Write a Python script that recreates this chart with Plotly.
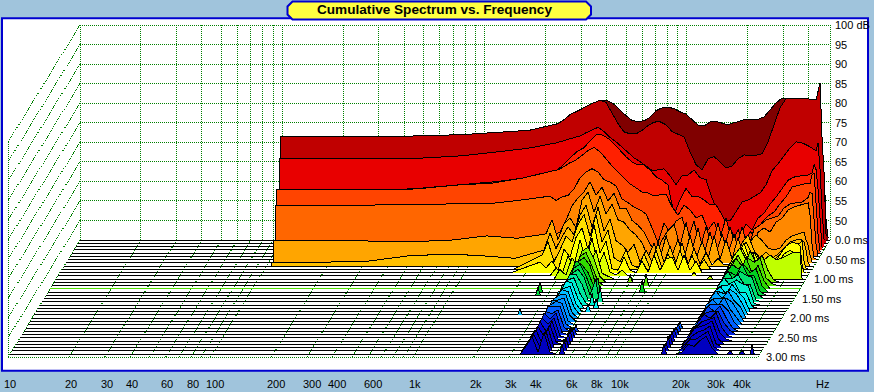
import math
import plotly.graph_objects as go

TITLE = "Cumulative Spectrum vs. Frequency"
DB_TICKS = [100, 95, 90, 85, 80, 75, 70, 65, 60, 55, 50]
MS_TICKS = [0.0, 0.5, 1.0, 1.5, 2.0, 2.5, 3.0]
MS_LABELS = ["0.0 ms", "0.50 ms", "1.00 ms", "1.50 ms", "2.00 ms", "2.50 ms", "3.00 ms"]
HZ_TICKS = [10, 20, 30, 40, 60, 80, 100, 200, 300, 400, 600, 1000, 2000, 3000, 4000, 6000, 8000, 10000, 20000, 30000, 40000]
HZ_LABELS = ["10", "20", "30", "40", "60", "80", "100", "200", "300", "400", "600", "1k", "2k", "3k", "4k", "6k", "8k", "10k", "20k", "30k", "40k"]
HZ_GRID = [10, 20, 30, 40, 50, 60, 70, 80, 90, 100, 200, 300, 400, 500, 600, 700, 800, 900, 1000,
           2000, 3000, 4000, 5000, 6000, 7000, 8000, 9000, 10000, 20000, 30000, 40000, 51000]

HZ_LOW = [100, 140, 200, 300, 500, 800, 1200, 1700]
HZ_HIGH = [2359, 2526, 2704, 2896, 3100, 3319, 3554, 3806, 4075, 4363, 4671, 5002, 5355, 5734, 6139, 6573,
           7038, 7536, 8068, 8639, 9250, 9904, 10604, 11354, 12157, 13016, 13937, 14922, 15977, 17107, 18316,
           19611, 20998, 22483, 24072, 25774, 27596, 29547, 31637, 33874, 36268, 38833, 41578, 44518,
           45541, 46589, 47660, 48757, 49879]
FIRST_HZ = [100, 100, 101, 102, 103, 104, 105, 106, 106]

SLICE_COLORS = ["#800000", "#c00000", "#e80000", "#ff2000", "#ff4400", "#ff6600", "#ff8800", "#ffa500", "#ffc000",
                "#ffe000", "#ffff00", "#e0ff00", "#c0ff00", "#80f000", "#50e000", "#30d800", "#00d020", "#00d840",
                "#00e070", "#00e8a0", "#00f0d0", "#00f0f0", "#00d8ff", "#00c0ff", "#00a0ff", "#0090ff", "#0080ff",
                "#0060ff", "#0040f0", "#0020e0", "#0010d8", "#0000d0", "#0000d0", "#0000c8", "#0000c8", "#0000c0"]

LOW_DB = [
    [71.2, 71.2, 71.2, 71.2, 71.2, 71.7, 72.2, 72.7],
    [72.2, 72.2, 72.2, 72.2, 72.5, 72.8, 73.4, 73.9],
    [67.4, 67.4, 67.4, 67.4, 67.6, 68.2, 69.2, 70.1],
    [60.1, 60.1, 60.1, 60.1, 60.7, 61.6, 62.4, 63.4],
    [61.2, 61.2, 61.2, 61.2, 61.4, 62.4, 62.9, 64.2],
    [58.1, 58.1, 58.1, 58.1, 58.3, 58.4, 58.5, 59.4],
    [49.5, 49.5, 49.5, 49.5, 49.5, 49.7, 50, 50.5],
    [50.6, 50.6, 50.6, 50.6, 50.4, 50.8, 51.9, 51.3],
    [46, 46, 46, 46.1, 47.6, 48.1, 47.6, 47],
]

SLICE_00 = [74.2, 75.3, 76.5, 77.6, 78.6, 79.6, 80.1, 80.6, 80.6, 79.7, 78.3, 76.8, 75.6, 75.3, 75.5, 76.4, 78.1, 78.8, 79, 78.6, 77.8, 77.2, 75.8, 74.4, 74.2, 75.2, 75.3, 74.9, 74.5, 75, 75.5, 75.9, 75.9, 75.9, 76.5, 78.2, 80.1, 81.3, 81.2, 80.9, 80.6, 80.6, 80.6, 80.9, 80.9, 70.9, 62.2, 50, 45.5]
SLICE_01 = [75.6, 76.6, 77.9, 78.6, 79.4, 80.3, 81, 81.6, 81, 78.1, 75.6, 73.5, 73, 73, 73.9, 75.1, 76, 76.1, 75.3, 73.6, 73, 72.2, 68.4, 65.1, 63.8, 66.6, 67.2, 65.8, 64.3, 64.8, 66.6, 67.6, 67.4, 67.5, 67.9, 71, 75.3, 79.7, 82, 82, 81.9, 82, 81.9, 81.8, 84.3, 86, 71.7, 63, 46.9]
SLICE_02 = [71.5, 72, 72.4, 72.9, 73.3, 74.1, 74.9, 75.5, 74.4, 72.9, 71.8, 70.5, 69, 67.7, 66.7, 65.6, 64.5, 64.6, 64.9, 63.1, 60.8, 63.1, 63.3, 64.6, 62.6, 62.1, 57.4, 53.8, 52, 51.5, 54.1, 56.4, 56.9, 57.7, 58.7, 60.8, 64.4, 66.2, 68.2, 70.3, 71.8, 71.5, 70.8, 69.7, 69.5, 71.5, 64.6, 54.4, 46.7]
SLICE_03 = [64.9, 66, 67.6, 69, 70.3, 71.1, 72.9, 74.4, 74.4, 73.5, 72.1, 70.3, 68.8, 67.5, 66.7, 66.7, 65.4, 63.7, 62.8, 61.6, 54, 57.8, 60.7, 58.6, 58.6, 57.8, 56.5, 56.5, 53.9, 50.6, 48.8, 48.5, 51.6, 50.1, 53.1, 54.4, 56.7, 58.5, 60.5, 62.8, 63.6, 63.9, 63.9, 64.7, 66.8, 65.5, 60.3, 51.3, 45.4]
SLICE_04 = [66, 66.3, 67.1, 68.1, 68.8, 69.9, 71.2, 72, 70.9, 69.1, 67.3, 65.8, 64.2, 62.7, 61.7, 60.6, 60.4, 59.6, 59.9, 60.1, 56.8, 54.7, 57.3, 56, 54, 54.7, 50.9, 53, 49, 54, 47.5, 51, 47.5, 50.5, 49, 52.9, 54.5, 55.5, 57.6, 59.4, 61.9, 62.4, 62.7, 62.9, 65, 65.5, 57.3, 49.6, 45.3]
SLICE_05 = [60.4, 59.3, 60.2, 60.6, 62.2, 65.1, 66.6, 67.4, 66.6, 64.6, 64, 63, 59.7, 58.7, 57.6, 56.9, 55.8, 52.3, 48.5, 53.5, 51, 54, 55, 49.5, 54, 47, 52.5, 47.5, 53.5, 47, 52.5, 47, 52.5, 47, 52, 53, 54.3, 54.8, 55.3, 57.4, 58.4, 58.7, 58.9, 60, 61.5, 61, 54.3, 47.9, 45.1]
SLICE_06 = [51.5, 51.5, 52, 55.1, 58.7, 60.8, 62.3, 64.9, 61.5, 63.5, 60, 62, 58, 58.2, 55, 53.8, 52, 49, 46.5, 50, 52.5, 54, 48.5, 54.5, 47.5, 53, 46.5, 52, 46.5, 51.5, 46.5, 51.5, 46, 51, 46.5, 52, 53.1, 52, 54.6, 55.6, 57.7, 58.5, 59, 59.5, 59.5, 56.4, 48.7, 45.4, 45.1]
SLICE_07 = [52.4, 56, 51, 55, 56.5, 54, 61, 63.1, 58, 62, 57.5, 60, 56, 55.4, 53.4, 52.1, 50.1, 46.5, 50, 46, 52, 47, 51, 46, 52, 46, 50.5, 46, 52, 46, 51, 46, 51.5, 46, 50.5, 52.1, 50.7, 48.8, 48.3, 48.8, 50.8, 51.9, 52.4, 52.9, 50.8, 49.6, 47, 45.2, 45]
SLICE_08 = [49.1, 53.5, 49.5, 52.5, 55, 53, 58, 60.6, 55, 60, 54, 57, 51.5, 50.4, 48.6, 50.5, 46, 49, 46, 51, 46, 50, 45.8, 51, 45.5, 49.5, 45.5, 48.5, 45.3, 47, 45.3, 45.3, 46.5, 51, 53, 49, 47, 48.6, 47, 48.1, 49.6, 51.2, 51.7, 51.7, 51.2, 49.1, 46, 45, 45]
SLICE_09 = [48.7, 52, 47, 50, 53.5, 52, 56.5, 59, 53.5, 59, 52, 55, 48, 46.9, 50, 46.1, 45.3, 49, 45.3, 50, 45.3, 49, 45.3, 50, 45.3, 48.5, 45.3, 47.5, 45.1, 45, 45, 45, 46.5, 50, 52, 49, 46.3, 47.4, 46.3, 47.9, 49.4, 51, 51.5, 51.7, 52.5, 46.9, 45.3, 45, 45]
SLICE_10 = [47.7, 46.2, 48, 45.5, 51, 49, 54, 56.4, 51, 57.2, 50, 53, 46, 45.6, 49, 45.6, 45, 48, 45.1, 49.5, 45.6, 48.5, 49, 45.6, 49.5, 45.6, 48, 45, 45, 45, 45, 45, 47, 50, 52.5, 48, 50, 46.7, 46.2, 47.2, 49.7, 51.8, 52.8, 52.3, 51.8, 46.9, 45.1, 45, 45]
SLICE_11 = [45, 45, 45, 47, 45.5, 50, 47.5, 54.2, 49, 54.7, 47.5, 51, 46, 45.2, 46.5, 45, 45, 45, 45, 45, 45, 45, 45, 45, 45, 45, 45, 45, 45, 45, 45, 45, 47, 50, 52, 49, 51, 48, 46.5, 47, 48.5, 50.6, 51.6, 50.3, 46.5, 45, 45, 45, 45]
SLICE_12 = [45, 45, 45, 45, 47.5, 46, 50.5, 48, 52.4, 48.5, 52.4, 46.5, 45.8, 45, 45, 45, 45, 45, 45, 45, 45, 45, 45, 45, 45, 45, 45, 45, 45, 45, 45, 45, 48, 51, 53, 50, 52, 47.8, 49.9, 51.2, 49.9, 50.4, 51.2, 51.9, 51.9, 51.9, 51.9, 45, 45]
FULL_SLICES = [SLICE_00, SLICE_01, SLICE_02, SLICE_03, SLICE_04, SLICE_05, SLICE_06, SLICE_07, SLICE_08,
               SLICE_09, SLICE_10, SLICE_11, SLICE_12]

RIDGE1_HZ = [3554, 3806, 4075, 4363, 4671, 5002]
RIDGE1_DB = [
    [45.5, 49, 53, 54, 51, 46.5], [45.5, 48, 52.5, 53.5, 50, 46], [45, 49, 52, 53, 51, 46],
    [45.5, 49.5, 53, 52, 50, 46.5], [45, 48.5, 52, 53, 50, 46], [45.5, 49, 51.5, 52.5, 50.5, 46],
    [45, 49.5, 52, 52, 49.5, 45.5], [45.5, 50, 51.5, 52, 48, 45.5], [45, 49, 52, 51.5, 47.5, 45],
    [46, 50, 51, 51.5, 47, 45], [45.5, 49.5, 51.5, 51, 47, 45], [46, 50, 51, 51, 46.5, 45],
    [45.5, 50.5, 50.5, 51, 46.5, 45], [46, 50, 51, 50.5, 46, 45], [46.5, 50.5, 50.5, 50.5, 46, 45],
    [46, 50, 49.5, 50.5, 46, 45], [46.5, 50.5, 49, 50.5, 45.5, 45], [47, 50, 48.5, 50, 45.5, 45],
    [46.5, 50, 47.5, 50, 45.5, 45], [47, 49.5, 47, 50, 45.5, 45], [47, 49.5, 46, 50, 45, 45],
    [47.5, 49, 46, 50, 45, 45], [47, 49.5, 45.5, 50.5, 45.5, 45],
]
RIDGE2_HZ = [20998, 22483, 24072, 25774, 27596, 29547, 31637, 33874, 36268]
RIDGE2_DB = [
    [47, 50, 52, 49, 53, 50, 52, 48, 45.5], [46, 49, 52, 50, 52, 51, 52, 47, 45.5], [47, 50, 51, 49, 53, 49, 51, 47, 45],
    [46, 50, 52, 51, 52, 50, 51, 46.5, 45], [46.5, 49, 51, 50, 53, 50, 50, 46, 45], [46, 50, 52, 49.5, 52, 51, 50.5, 46, 45],
    [46, 49.5, 51, 51, 52, 49.5, 49.5, 45.5, 45], [47, 50, 52, 50, 51.5, 50.5, 50, 45.5, 45], [46, 49, 51, 51, 52, 49, 49, 45.5, 45],
    [46.5, 50, 51.5, 49.5, 52, 50, 48.5, 45, 45], [46, 49.5, 51, 50.5, 51.5, 50.5, 48, 45, 45], [46.5, 50, 52, 50, 52, 49.5, 48, 45, 45],
    [46, 49, 51, 51, 51, 50, 47.5, 45, 45], [46.5, 50, 51.5, 50, 52, 49, 47, 45, 45], [46, 49.5, 51, 51, 51, 49.5, 46.5, 45, 45],
    [46.5, 49, 51.5, 50, 51.5, 48.5, 46, 45, 45], [46, 49.5, 50.5, 51, 51, 48, 46, 45, 45], [46.5, 49, 51, 50, 51.5, 47.5, 45.5, 45, 45],
    [46, 48.5, 50, 50.5, 51, 47, 45.5, 45, 45], [46.5, 49, 49.5, 50, 51, 46.5, 45, 45, 45], [46, 48, 49, 49.5, 50.5, 46, 45, 45, 45],
    [46, 48, 48, 49, 50, 46, 45, 45, 45], [45.5, 47.5, 47, 48.5, 49.5, 46.5, 45, 45, 45],
]
SPIKE_SLICE = [11, 12, 13, 14, 16, 16, 17, 17, 18, 19, 20, 21, 22, 23,
               28, 29, 30, 31, 32, 33, 34, 35,
               27, 28, 29, 30, 31, 32, 33, 34, 35, 35, 35, 35]
SPIKE_HZ = [13937, 17107, 7038, 8639, 8639, 2704, 2704, 5355, 5355, 5734, 5355, 5734, 5355, 2526,
            5355, 5355, 5355, 5355, 5355, 5355, 5355, 5355,
            17107, 17107, 17107, 17107, 17107, 17107, 17107, 17107, 17107, 36268, 41578, 46589]
SPIKE_DB = [46, 46, 47, 48, 48, 47.5, 47, 49.5, 50, 49, 48, 47.5, 47, 46.5,
            46.5, 47, 47.5, 48, 48, 47.5, 48, 47.5,
            46.5, 47, 47, 47.5, 47.5, 47.5, 48, 47, 47.5, 46, 46, 47.5]

SLICE_COUNT = 36
SLICE_MS = 1 / 12
FLOOR_DB = 45
TOP_DB = 100
DECADE_PER_MS = 24 / 202.3
DB_PER_MS = 10
PX_DECADE = 202.3
PX_DB = 3.91
SPIKE_FLANK = 1.03
W, H = 874, 392


def X(hz, t=0.0):
    return math.log10(hz) - DECADE_PER_MS * t


def Y(db, t=0.0):
    return db - DB_PER_MS * t


def xp(p):
    return p / W


def yp(p):
    return 1 - p / H


fig = go.Figure()
GRID = "#008000"
DOT = "1px,1px"


def add_grid(xs, ys):
    fig.add_trace(go.Scatter(x=xs, y=ys, mode="lines", line=dict(color=GRID, width=1, dash=DOT),
                             hoverinfo="skip", showlegend=False))


T_END = 3.0
xs, ys = [], []
for db in range(50, TOP_DB + 1, 5):
    xs += [X(HZ_GRID[0]), X(HZ_GRID[-1]), None]
    ys += [Y(db), Y(db), None]
for hz in HZ_GRID:
    xs += [X(hz), X(hz), None]
    ys += [Y(TOP_DB), Y(FLOOR_DB), None]
add_grid(xs, ys)

xs, ys = [], []
for db in range(FLOOR_DB, TOP_DB + 1, 5):
    xs += [X(HZ_GRID[0]), X(HZ_GRID[0], T_END), None]
    ys += [Y(db), Y(db, T_END), None]
xs += [X(HZ_GRID[0], T_END), X(HZ_GRID[0], T_END), None]
ys += [Y(TOP_DB, T_END), Y(FLOOR_DB, T_END), None]
add_grid(xs, ys)

xs, ys = [], []
for hz in HZ_GRID:
    xs += [X(hz), X(hz, T_END), None]
    ys += [Y(FLOOR_DB), Y(FLOOR_DB, T_END), None]
xs += [X(HZ_GRID[0], T_END), X(HZ_GRID[-1], T_END), None]
ys += [Y(FLOOR_DB, T_END), Y(FLOOR_DB, T_END), None]
add_grid(xs, ys)

for k in range(SLICE_COUNT):
    t = k * SLICE_MS
    if k < len(FULL_SLICES):
        vals = list(FULL_SLICES[k])
    else:
        vals = [FLOOR_DB] * len(HZ_HIGH)
        for hz, db in zip(RIDGE1_HZ, RIDGE1_DB[k - 13]):
            vals[HZ_HIGH.index(hz)] = db
        for hz, db in zip(RIDGE2_HZ, RIDGE2_DB[k - 13]):
            vals[HZ_HIGH.index(hz)] = db
    low = LOW_DB[k] if k < len(LOW_DB) else [FLOOR_DB] * len(HZ_LOW)
    freqs = list(HZ_LOW) + list(HZ_HIGH)
    if k < len(FIRST_HZ):
        freqs[0] = FIRST_HZ[k]
    curve = dict(zip(freqs, list(low) + vals))
    for sk, shz, sdb in zip(SPIKE_SLICE, SPIKE_HZ, SPIKE_DB):
        if sk != k:
            continue
        j = HZ_HIGH.index(shz)
        curve[shz] = max(vals[j], sdb)
        if j > 0 and vals[j - 1] <= FLOOR_DB + 0.5:
            curve[shz / SPIKE_FLANK] = FLOOR_DB
        if j + 1 < len(vals) and vals[j + 1] <= FLOOR_DB + 0.5:
            curve[shz * SPIKE_FLANK] = FLOOR_DB
    pts = sorted(curve.items())
    row = [p[1] for p in pts]
    px_x = [X(p[0], t) for p in pts]
    px_y = [Y(v, t) for v in row]
    base = Y(FLOOR_DB, t)

    fig.add_trace(go.Scatter(x=[X(HZ_GRID[0], t), X(HZ_GRID[-1], t)], y=[base, base], mode="lines",
                             line=dict(color="#50e000" if k == 15 else "#000000", width=1),
                             hoverinfo="skip", showlegend=False))
    fig.add_trace(go.Scatter(x=[px_x[0]] + px_x + [px_x[-1]], y=[base] + px_y + [base], mode="lines",
                             fill="toself", fillcolor=SLICE_COLORS[k], line=dict(width=0),
                             hoverinfo="skip", showlegend=False))
    ox, oy = [], []
    if row[0] > FLOOR_DB:
        ox += [px_x[0]]
        oy += [base]
    for i in range(len(row)):
        left_up = i > 0 and row[i - 1] > FLOOR_DB
        right_up = i + 1 < len(row) and row[i + 1] > FLOOR_DB
        if row[i] > FLOOR_DB or left_up or right_up:
            ox.append(px_x[i])
            oy.append(px_y[i])
        elif ox and ox[-1] is not None:
            ox.append(None)
            oy.append(None)
    fig.add_trace(go.Scatter(x=ox, y=oy, mode="lines", line=dict(color="#000000", width=1),
                             hoverinfo="skip", showlegend=False, connectgaps=False))

FONT = dict(family="Liberation Sans, Arial, sans-serif", size=11, color="#000000")
ann = []
for db in DB_TICKS:
    ann.append(dict(x=X(HZ_GRID[-1]), y=Y(db), xref="x", yref="y", text=f"{db} dB" if db == 100 else str(db),
                    showarrow=False, xanchor="left", yanchor="middle", xshift=3, font=FONT))
for tm, lab in zip(MS_TICKS, MS_LABELS):
    ann.append(dict(x=X(HZ_GRID[-1], tm), y=Y(FLOOR_DB, tm), xref="x", yref="y", text=lab, showarrow=False,
                    xanchor="left", yanchor="middle", xshift=3 if tm == 0 else 6, font=FONT))
for hz, lab in zip(HZ_TICKS, HZ_LABELS):
    ann.append(dict(x=X(hz, T_END), y=yp(384), xref="x", yref="paper", text=lab, showarrow=False,
                    xanchor="left", yanchor="middle", xshift=-6, font=FONT))
ann.append(dict(x=xp(814), y=yp(384), xref="paper", yref="paper", text="Hz", showarrow=False,
                xanchor="left", yanchor="middle", font=FONT))
ann.append(dict(x=xp(434.5), y=yp(10), xref="paper", yref="paper", text=f"<b>{TITLE}</b>", showarrow=False,
                xanchor="center", yanchor="middle",
                font=dict(family="Liberation Sans, Arial, sans-serif", size=13.6, color="#000000")))

L, R, T, B = 287.5, 591, 1.5, 19.5
r = 5
pill = (f"M {xp(L + r)} {yp(T)} L {xp(R - r)} {yp(T)} L {xp(R)} {yp(T + r)} L {xp(R)} {yp(B - r)} "
        f"L {xp(R - r)} {yp(B)} L {xp(L + r)} {yp(B)} L {xp(L)} {yp(B - r)} L {xp(L)} {yp(T + r)} Z")
shapes = [
    dict(type="rect", xref="paper", yref="paper", x0=xp(2), x1=xp(868), y0=yp(370.7), y1=yp(18.3),
         fillcolor="#ffffff", line=dict(color="#0000d0", width=2), layer="below"),
    dict(type="path", xref="paper", yref="paper", path=pill, fillcolor="#ffff40",
         line=dict(color="#0000d0", width=2), layer="above"),
]

log_left = 1 + (0 - 80) / PX_DECADE
log_right = 1 + (W - 80) / PX_DECADE
db_top = TOP_DB + 25 / PX_DB
db_bottom = TOP_DB - (H - 25) / PX_DB
fig.update_layout(
    width=W, height=H, margin=dict(l=0, r=0, t=0, b=0), autosize=False,
    paper_bgcolor="#a0c4dc", plot_bgcolor="rgba(0,0,0,0)", showlegend=False,
    xaxis=dict(range=[log_left, log_right], visible=False, fixedrange=True),
    yaxis=dict(range=[db_bottom, db_top], visible=False, fixedrange=True),
    annotations=ann, shapes=shapes,
)
CRISP = ("var s=document.createElement('style');"
         "s.textContent='html,body{margin:0;padding:0;overflow:hidden}.scatterlayer path{shape-rendering:crispEdges}';"
         "document.head.appendChild(s);")
fig.write_html("out.html", post_script=CRISP, config=dict(displayModeBar=False))
